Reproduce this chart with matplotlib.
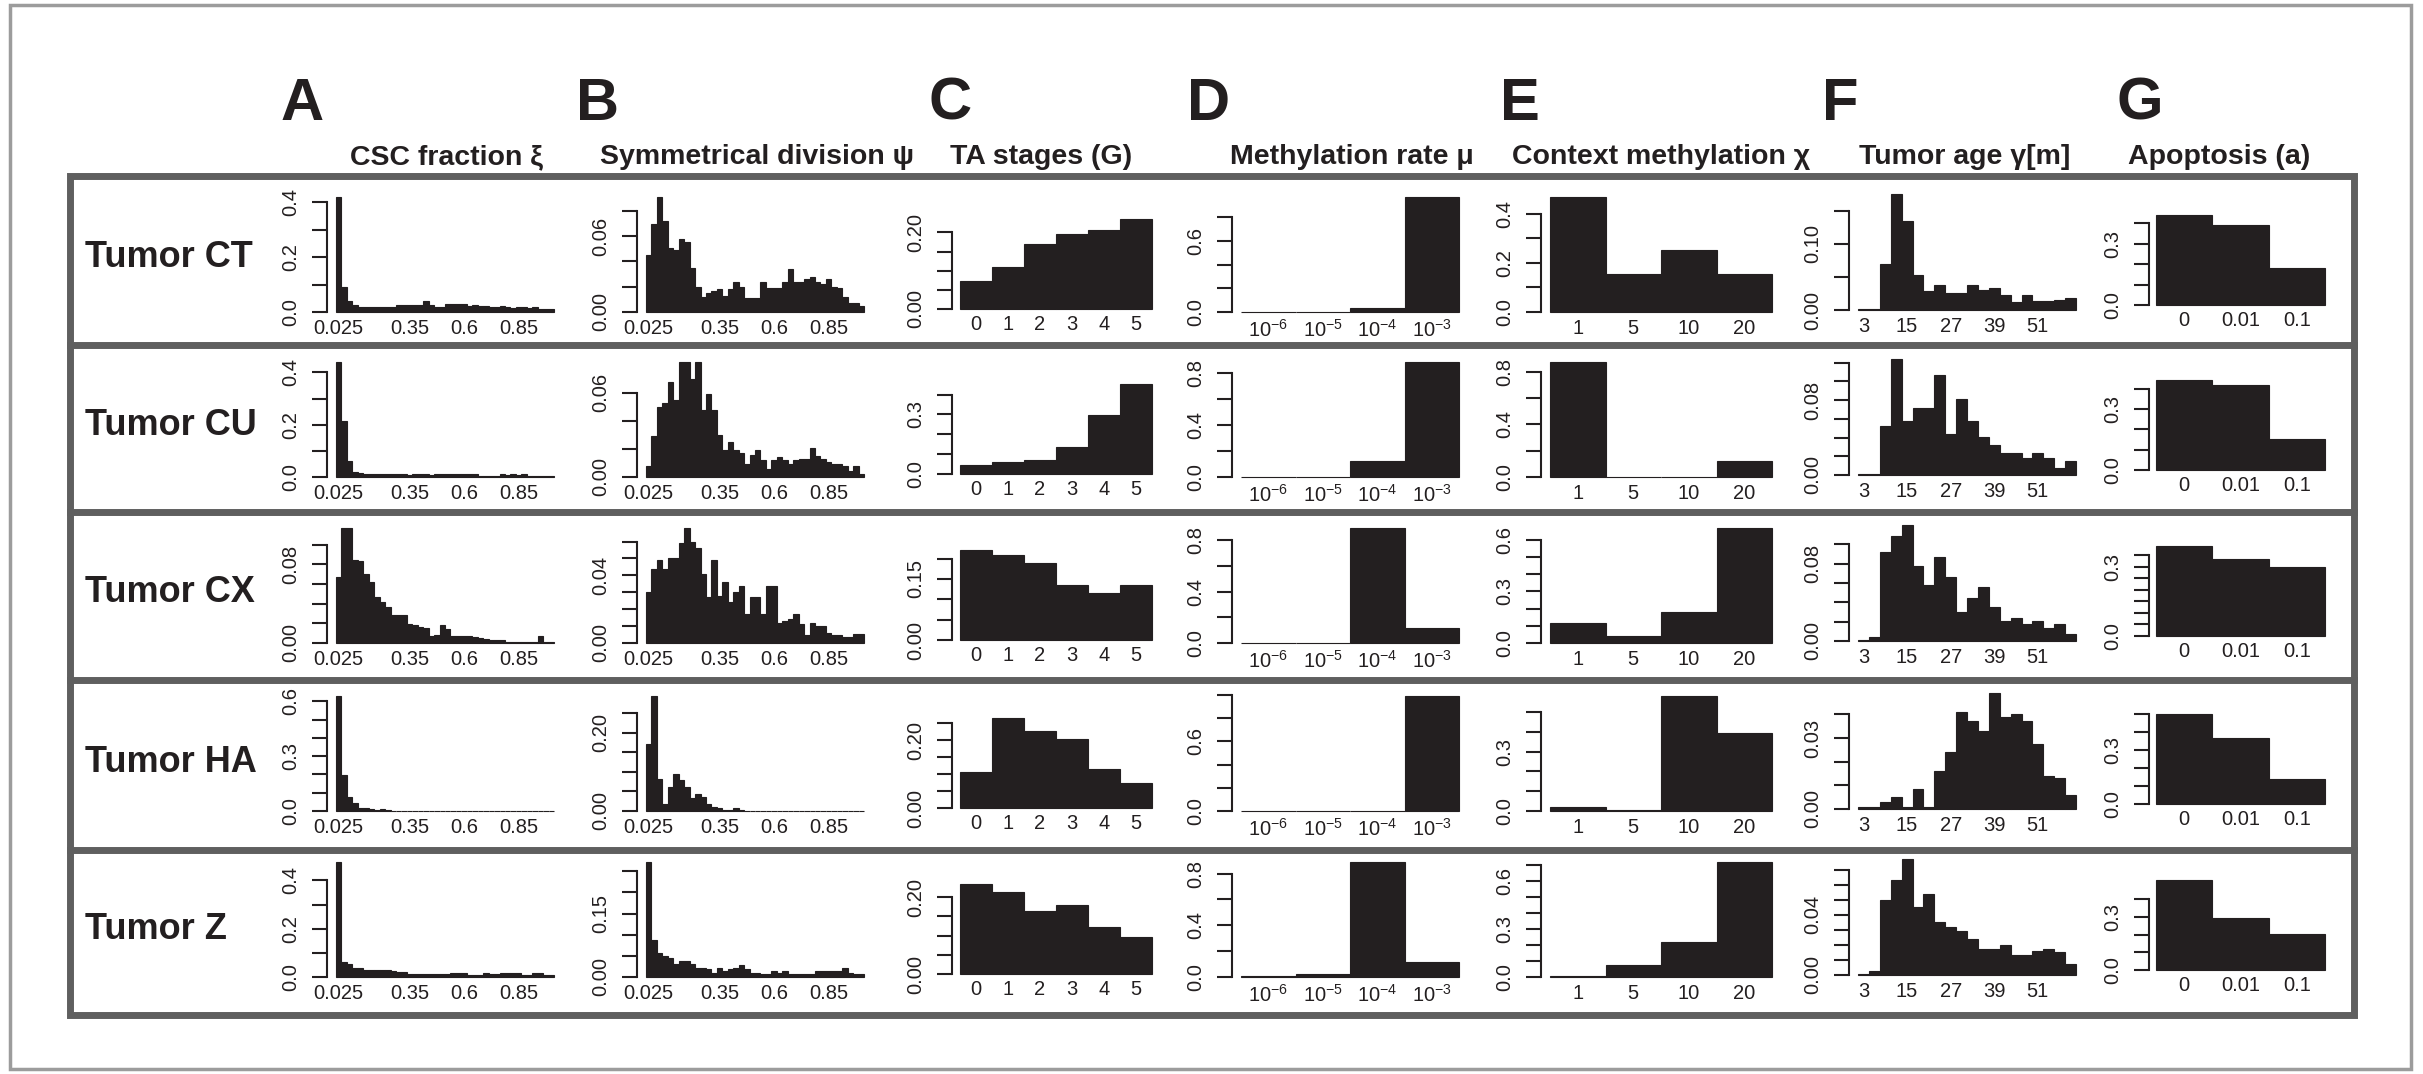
import numpy as np
import matplotlib
matplotlib.use("Agg")
import matplotlib.pyplot as plt
from matplotlib.patches import Rectangle
from matplotlib.lines import Line2D

plt.rcParams['font.family'] = ['Liberation Sans', 'DejaVu Sans']
plt.rcParams['mathtext.fontset'] = 'custom'
plt.rcParams['mathtext.rm'] = 'Liberation Sans'
plt.rcParams['mathtext.it'] = 'Liberation Sans:italic'
plt.rcParams['mathtext.bf'] = 'Liberation Sans:bold'

INK = '#231f20'

tumors = ["Tumor CT", "Tumor CU", "Tumor CX", "Tumor HA", "Tumor Z"]
letters = ["A", "B", "C", "D", "E", "F", "G"]
titles = ["CSC fraction ξ", "Symmetrical division ψ", "TA stages (G)",
          "Methylation rate μ", "Context methylation χ", "Tumor age γ[m]",
          "Apoptosis (a)"]

# --- data: one list per tumor (rows CT, CU, CX, HA, Z) ---
csc_fraction = [
    [0.42, 0.09, 0.04, 0.025, 0.02, 0.02, 0.018, 0.018, 0.02, 0.02,
     0.02, 0.027, 0.027, 0.026, 0.027, 0.026, 0.04, 0.027, 0.02, 0.02,
     0.03, 0.031, 0.03, 0.03, 0.023, 0.024, 0.023, 0.022, 0.018, 0.018,
     0.022, 0.017, 0.016, 0.017, 0.017, 0.016, 0.017, 0.011, 0.012, 0.011],
    [0.44, 0.215, 0.062, 0.019, 0.015, 0.012, 0.012, 0.011, 0.011, 0.011,
     0.011, 0.011, 0.011, 0.008, 0.011, 0.011, 0.011, 0.008, 0.011, 0.011,
     0.011, 0.011, 0.011, 0.011, 0.011, 0.011, 0.005, 0.005, 0.005, 0.005,
     0.012, 0.008, 0.012, 0.008, 0.012, 0.005, 0.005, 0.005, 0.005, 0.005],
    [0.067, 0.117, 0.117, 0.084, 0.083, 0.070, 0.062, 0.047, 0.042, 0.037,
     0.028, 0.028, 0.028, 0.019, 0.018, 0.016, 0.015, 0.007, 0.008, 0.018,
     0.014, 0.007, 0.007, 0.007, 0.007, 0.006, 0.005, 0.004, 0.003, 0.003,
     0.003, 0.001, 0.001, 0.001, 0.001, 0.001, 0.001, 0.007, 0.001, 0.001],
    [0.63, 0.196, 0.077, 0.046, 0.018, 0.018, 0.013, 0.005, 0.013, 0.005,
     0.001, 0.001, 0.001, 0.001, 0.001, 0.001, 0.001, 0.001, 0.001, 0.001,
     0.001, 0.001, 0.001, 0.001, 0.001, 0.001, 0.001, 0.001, 0.001, 0.001,
     0.001, 0.001, 0.001, 0.001, 0.001, 0.001, 0.001, 0.001, 0.001, 0.001],
    [0.476, 0.062, 0.052, 0.039, 0.037, 0.03, 0.028, 0.028, 0.028, 0.028,
     0.025, 0.021, 0.021, 0.014, 0.014, 0.014, 0.014, 0.014, 0.014, 0.014,
     0.014, 0.017, 0.017, 0.017, 0.007, 0.007, 0.007, 0.017, 0.014, 0.014,
     0.017, 0.017, 0.017, 0.017, 0.007, 0.007, 0.017, 0.017, 0.007, 0.007],
]
sym_division = [
    [0.045, 0.070, 0.091, 0.072, 0.051, 0.049, 0.058, 0.055, 0.035, 0.020,
     0.012, 0.015, 0.017, 0.018, 0.013, 0.018, 0.024, 0.020, 0.011, 0.011,
     0.011, 0.024, 0.019, 0.019, 0.019, 0.024, 0.034, 0.024, 0.024, 0.026,
     0.028, 0.024, 0.022, 0.026, 0.020, 0.019, 0.012, 0.007, 0.007, 0.0045],
    [0.008, 0.029, 0.050, 0.053, 0.068, 0.055, 0.082, 0.082, 0.070, 0.082,
     0.048, 0.059, 0.048, 0.030, 0.019, 0.025, 0.019, 0.017, 0.009, 0.016,
     0.019, 0.012, 0.006, 0.012, 0.014, 0.012, 0.009, 0.012, 0.013, 0.013,
     0.021, 0.015, 0.013, 0.011, 0.009, 0.009, 0.008, 0.004, 0.008, 0.002],
    [0.030, 0.044, 0.049, 0.044, 0.050, 0.050, 0.059, 0.068, 0.060, 0.056,
     0.041, 0.027, 0.049, 0.028, 0.036, 0.024, 0.030, 0.034, 0.017, 0.027,
     0.027, 0.017, 0.034, 0.034, 0.012, 0.013, 0.014, 0.017, 0.011, 0.005,
     0.012, 0.010, 0.010, 0.006, 0.005, 0.005, 0.0036, 0.0036, 0.0056, 0.0056],
    [0.171, 0.294, 0.082, 0.019, 0.062, 0.095, 0.080, 0.062, 0.034, 0.043,
     0.037, 0.017, 0.010, 0.008, 0.003, 0.003, 0.008, 0.003, 0.001, 0.001,
     0.001, 0.001, 0.001, 0.001, 0.001, 0.001, 0.001, 0.001, 0.001, 0.001,
     0.001, 0.001, 0.001, 0.001, 0.001, 0.001, 0.001, 0.001, 0.001, 0.001],
    [0.272, 0.088, 0.057, 0.049, 0.045, 0.030, 0.039, 0.039, 0.030, 0.022,
     0.022, 0.018, 0.010, 0.022, 0.014, 0.018, 0.022, 0.028, 0.018, 0.010,
     0.010, 0.006, 0.006, 0.014, 0.010, 0.014, 0.006, 0.008, 0.008, 0.008,
     0.008, 0.014, 0.014, 0.014, 0.014, 0.014, 0.022, 0.010, 0.008, 0.008],
]
ta_stages = [
    [0.074, 0.109, 0.171, 0.195, 0.206, 0.235],
    [0.045, 0.058, 0.072, 0.138, 0.297, 0.453],
    [0.221, 0.208, 0.188, 0.136, 0.116, 0.136],
    [0.107, 0.265, 0.227, 0.202, 0.115, 0.075],
    [0.234, 0.212, 0.164, 0.179, 0.123, 0.096],
]
methyl_rate = [
    [0.002, 0.002, 0.03, 0.97],
    [0.002, 0.002, 0.124, 0.885],
    [0.002, 0.002, 0.895, 0.118],
    [0.003, 0.003, 0.003, 0.99],
    [0.008, 0.026, 0.89, 0.113],
]
context_methyl = [
    [0.469, 0.154, 0.253, 0.154],
    [0.876, 0.002, 0.002, 0.124],
    [0.118, 0.043, 0.181, 0.669],
    [0.022, 0.005, 0.58, 0.395],
    [0.005, 0.075, 0.22, 0.72],
]
tumor_age = [
    [0.0015, 0.002, 0.070, 0.175, 0.135, 0.053, 0.029, 0.037, 0.025, 0.025,
     0.037, 0.030, 0.033, 0.022, 0.012, 0.022, 0.014, 0.014, 0.015, 0.018],
    [0.001, 0.001, 0.052, 0.124, 0.058, 0.072, 0.072, 0.107, 0.044, 0.081,
     0.058, 0.041, 0.032, 0.023, 0.023, 0.018, 0.023, 0.018, 0.007, 0.015],
    [0.001, 0.004, 0.092, 0.109, 0.120, 0.078, 0.058, 0.087, 0.066, 0.030,
     0.044, 0.056, 0.035, 0.021, 0.024, 0.018, 0.021, 0.013, 0.018, 0.007],
    [0.0007, 0.0007, 0.0028, 0.0049, 0.0007, 0.0085, 0.0007, 0.0162, 0.024, 0.041,
     0.037, 0.033, 0.049, 0.039, 0.040, 0.037, 0.0275, 0.014, 0.013, 0.006],
    [0.0004, 0.0027, 0.050, 0.063, 0.077, 0.045, 0.054, 0.035, 0.032, 0.029,
     0.024, 0.017, 0.017, 0.020, 0.013, 0.013, 0.016, 0.017, 0.015, 0.0076],
]
apoptosis = [
    [0.44, 0.39, 0.18],
    [0.443, 0.417, 0.152],
    [0.39, 0.333, 0.297],
    [0.50, 0.364, 0.14],
    [0.508, 0.295, 0.204],
]

# x tick labels: (bar index, text)
csc_xlabels = [(0, "0.025"), (13, "0.35"), (23, "0.6"), (33, "0.85")]
sym_xlabels = [(0, "0.025"), (13, "0.35"), (23, "0.6"), (33, "0.85")]
ta_xlabels = [(0, "0"), (1, "1"), (2, "2"), (3, "3"), (4, "4"), (5, "5")]
mu_xlabels = [(0, r"$10^{-6}$"), (1, r"$10^{-5}$"), (2, r"$10^{-4}$"), (3, r"$10^{-3}$")]
chi_xlabels = [(0, "1"), (1, "5"), (2, "10"), (3, "20")]
age_xlabels = [(0, "3"), (4, "15"), (8, "27"), (12, "39"), (16, "51")]
apo_xlabels = [(0, "0"), (1, "0.01"), (2, "0.1")]

# y axes: (top tick, tick step, labelled ticks) per tumor
csc_yticks = [(0.4, 0.1, ["0.0", "0.2", "0.4"]), (0.4, 0.1, ["0.0", "0.2", "0.4"]),
              (0.10, 0.02, ["0.00", "0.08"]), (0.6, 0.1, ["0.0", "0.3", "0.6"]),
              (0.4, 0.1, ["0.0", "0.2", "0.4"])]
sym_yticks = [(0.08, 0.02, ["0.00", "0.06"]), (0.06, 0.02, ["0.00", "0.06"]),
              (0.06, 0.01, ["0.00", "0.04"]), (0.25, 0.05, ["0.00", "0.20"]),
              (0.25, 0.05, ["0.00", "0.15"])]
ta_yticks = [(0.20, 0.05, ["0.00", "0.20"]), (0.4, 0.1, ["0.0", "0.3"]),
             (0.20, 0.05, ["0.00", "0.15"]), (0.25, 0.05, ["0.00", "0.20"]),
             (0.20, 0.05, ["0.00", "0.20"])]
mu_yticks = [(0.8, 0.2, ["0.0", "0.6"]), (0.8, 0.2, ["0.0", "0.4", "0.8"]),
             (0.8, 0.2, ["0.0", "0.4", "0.8"]), (1.0, 0.2, ["0.0", "0.6"]),
             (0.8, 0.2, ["0.0", "0.4", "0.8"])]
chi_yticks = [(0.4, 0.1, ["0.0", "0.2", "0.4"]), (0.8, 0.2, ["0.0", "0.4", "0.8"]),
              (0.6, 0.1, ["0.0", "0.3", "0.6"]), (0.5, 0.1, ["0.0", "0.3"]),
              (0.7, 0.1, ["0.0", "0.3", "0.6"])]
age_yticks = [(0.15, 0.05, ["0.00", "0.10"]), (0.12, 0.02, ["0.00", "0.08"]),
              (0.10, 0.02, ["0.00", "0.08"]), (0.04, 0.01, ["0.00", "0.03"]),
              (0.07, 0.01, ["0.00", "0.04"])]
apo_yticks = [(0.4, 0.1, ["0.0", "0.3"]), (0.4, 0.1, ["0.0", "0.3"]),
              (0.35, 0.05, ["0.0", "0.3"]), (0.5, 0.1, ["0.0", "0.3"]),
              (0.4, 0.1, ["0.0", "0.3"])]

columns = [
    (csc_fraction, csc_xlabels, csc_yticks),
    (sym_division, sym_xlabels, sym_yticks),
    (ta_stages, ta_xlabels, ta_yticks),
    (methyl_rate, mu_xlabels, mu_yticks),
    (context_methyl, chi_xlabels, chi_yticks),
    (tumor_age, age_xlabels, age_yticks),
    (apoptosis, apo_xlabels, apo_yticks),
]

# layout in pixels
FW, FH = 2423, 1074
col_bars = [(336, 554), (646, 864), (960, 1152), (1241, 1459),
            (1550, 1772), (1858, 2076), (2156, 2325)]
col_shift = [0, 0, -3, 0, 0, -2, -7]
col_height = [115, 115, 90, 115, 115, 116, 90]
row_base = [312, 477, 643, 811, 977]
letter_x = [302, 597, 950, 1209, 1520, 1840, 2140]
title_x = [447, 757, 1041, 1352, 1661, 1965, 2219]
row_lines = [176, 345, 512, 680, 850, 1015]

fig = plt.figure(figsize=(FW / 100, FH / 100), dpi=100)
fig.patch.set_facecolor('white')


def fx(px):
    return px / FW


def fy(py):
    return 1 - py / FH


def draw_panel(ax, vals, xlabels, yspec):
    n = len(vals)
    ax.bar(np.arange(n) + 0.5, vals, width=1.0, color=INK,
           edgecolor=INK, linewidth=0.8)
    ymax = max(vals)
    ax.set_xlim(-0.04 * n, 1.04 * n)
    ax.set_ylim(-0.04 * ymax, 1.04 * ymax)
    top, step, labs = yspec
    ticks = np.arange(0, top + step / 2, step)
    names = []
    for t in ticks:
        name = ""
        for lab in labs:
            if abs(float(lab) - t) < 1e-9:
                name = lab
        names.append(name)
    ax.set_yticks(ticks)
    ax.set_yticklabels(names)
    ax.set_xticks([i + 0.5 for i, _ in xlabels])
    ax.set_xticklabels([s for _, s in xlabels])
    for side in ["top", "right", "bottom"]:
        ax.spines[side].set_visible(False)
    ax.spines["left"].set_bounds(0, top)
    ax.spines["left"].set_linewidth(1.5)
    ax.spines["left"].set_color(INK)
    ax.tick_params(axis="y", length=10.5, width=1.5, pad=9, labelsize=14.5,
                   color=INK, labelcolor=INK)
    ax.tick_params(axis="x", length=0, pad=1.5, labelsize=14.5, labelcolor=INK)
    for lab in ax.get_yticklabels():
        lab.set_rotation(90)
        lab.set_va("center")
    ax.set_facecolor("none")


for r in range(5):
    for c, (data, xlabels, yticks) in enumerate(columns):
        bx0, bx1 = col_bars[c]
        w = bx1 - bx0
        h = col_height[c]
        base = row_base[r] + col_shift[c]
        ax = fig.add_axes([fx(bx0 - 0.04 * w), fy(base + 0.04 * h),
                           1.08 * w / FW, 1.08 * h / FH])
        draw_panel(ax, data[r], xlabels, yticks[r])

# outer light frame
fig.add_artist(Rectangle((fx(10), fy(1069)), fx(2411) - fx(10), fy(5) - fy(1069),
                         transform=fig.transFigure, fill=False,
                         edgecolor="#9c9c9c", linewidth=2.5))
# inner dark box and row separators
fig.add_artist(Rectangle((fx(70), fy(1015)), fx(2354) - fx(70), fy(176) - fy(1015),
                         transform=fig.transFigure, fill=False,
                         edgecolor="#5f5f5f", linewidth=5))
for y in row_lines[1:-1]:
    fig.add_artist(Line2D([fx(70), fx(2354)], [fy(y), fy(y)],
                          transform=fig.transFigure, color="#5f5f5f", linewidth=5))

for c in range(7):
    fig.text(fx(letter_x[c]), fy(120), letters[c], ha="center", va="baseline",
             fontsize=43, fontweight="bold", color=INK)
    fig.text(fx(title_x[c]), fy(164), titles[c], ha="center", va="baseline",
             fontsize=20.5, fontweight="bold", color=INK)

for r in range(5):
    yc = (row_lines[r] + row_lines[r + 1]) / 2 - 3
    fig.text(fx(85), fy(yc), tumors[r], ha="left", va="center",
             fontsize=26, fontweight="bold", color=INK)

fig.savefig("out.png", dpi=100, facecolor="white")
